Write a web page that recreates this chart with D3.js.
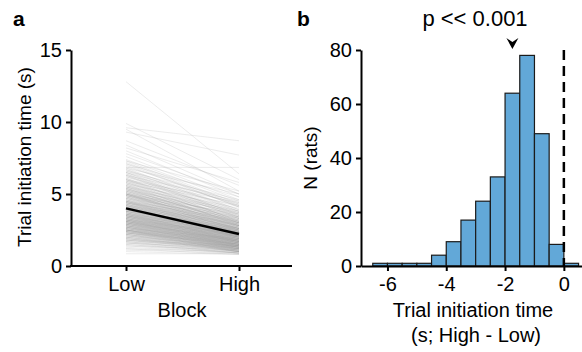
<!DOCTYPE html>
<html>
<head>
<meta charset="utf-8">
<script src="https://cdn.jsdelivr.net/npm/d3@7"></script>
<style>
  body { margin: 0; background: #fff; }
  svg { display: block; font-family: "Liberation Sans", Arial, sans-serif; }
</style>
</head>
<body>
<svg id="chart" width="582" height="352"></svg>
<script>
// Panel a: trial initiation time per rat in Low and High blocks
const blocks = ["Low", "High"];
const lowTimes = [
  0.85, 1.0, 1.1, 1.2, 1.2, 1.3, 1.4, 1.4,
  1.5, 1.5, 1.6, 1.6, 1.6, 1.7, 1.7, 1.7, 1.8, 1.8, 1.8, 1.8, 1.9, 1.9, 1.9, 1.9, 2.0, 2.0, 2.0, 2.0,
  2.1, 2.1, 2.1, 2.1, 2.2, 2.2, 2.2, 2.2, 2.2, 2.3, 2.3, 2.3, 2.3, 2.3, 2.3, 2.4, 2.4, 2.4, 2.4, 2.4, 2.4, 2.5, 2.5, 2.5, 2.5, 2.5, 2.5, 2.5, 2.5, 2.5,
  2.6, 2.6, 2.6, 2.6, 2.6, 2.6, 2.7, 2.7, 2.7, 2.7, 2.7, 2.7, 2.7, 2.8, 2.8, 2.8, 2.8, 2.8, 2.8, 2.8, 2.9, 2.9, 2.9, 2.9, 2.9, 2.9, 2.9, 3.0, 3.0, 3.0, 3.0, 3.0, 3.0, 3.0, 3.0,
  3.1, 3.1, 3.1, 3.1, 3.1, 3.1, 3.1, 3.1, 3.2, 3.2, 3.2, 3.2, 3.2, 3.2, 3.2, 3.2, 3.3, 3.3, 3.3, 3.3, 3.3, 3.3, 3.3, 3.4, 3.4, 3.4, 3.4, 3.4, 3.4, 3.4, 3.5, 3.5, 3.5, 3.5, 3.5, 3.5, 3.5, 3.5,
  3.6, 3.6, 3.6, 3.6, 3.6, 3.6, 3.6, 3.7, 3.7, 3.7, 3.7, 3.7, 3.7, 3.8, 3.8, 3.8, 3.8, 3.8, 3.8, 3.8, 3.9, 3.9, 3.9, 3.9, 3.9, 3.9, 4.0, 4.0, 4.0, 4.0, 4.0, 4.0, 4.0, 4.0,
  4.1, 4.1, 4.1, 4.1, 4.1, 4.2, 4.2, 4.2, 4.2, 4.2, 4.2, 4.3, 4.3, 4.3, 4.3, 4.3, 4.4, 4.4, 4.4, 4.4, 4.4, 4.4, 4.5, 4.5, 4.5, 4.5, 4.5, 4.5,
  4.6, 4.6, 4.6, 4.6, 4.7, 4.7, 4.7, 4.7, 4.8, 4.8, 4.8, 4.8, 4.9, 4.9, 4.9, 4.9, 4.9, 5.0, 5.0, 5.0, 5.0, 5.0, 5.0, 5.0,
  5.1, 5.1, 5.1, 5.1, 5.2, 5.2, 5.2, 5.2, 5.3, 5.3, 5.3, 5.3, 5.4, 5.4, 5.4, 5.4, 5.5, 5.5, 5.5, 5.5,
  5.6, 5.6, 5.6, 5.7, 5.7, 5.7, 5.8, 5.8, 5.8, 5.9, 5.9, 5.9, 6.0, 6.0, 6.0, 6.0,
  6.1, 6.1, 6.2, 6.2, 6.3, 6.3, 6.3, 6.4, 6.4, 6.5, 6.5, 6.5,
  6.6, 6.6, 6.7, 6.7, 6.8, 6.8, 6.85, 6.9, 7.0,
  7.1, 7.1, 7.2, 7.3, 7.3, 7.4,
  7.6, 7.8, 8.0, 8.2, 8.4,
  8.7, 9.3, 9.5, 9.6, 9.9, 12.8
];
const highTimes = [
  0.85, 0.8, 0.9, 0.8, 1.0, 0.9, 1.1, 0.9,
  1.0, 0.9, 1.1, 0.9, 1.2, 1.0, 1.3, 0.9, 1.1, 1.2, 1.0, 1.4, 1.1, 1.0, 1.3, 1.2, 1.2, 1.0, 1.4, 1.1,
  1.2, 1.0, 1.4, 1.3, 1.1, 1.5, 1.2, 1.3, 1.0, 1.4, 1.2, 1.6, 1.1, 1.3, 1.5, 1.2, 1.4, 1.0, 1.3, 1.7, 1.5, 1.3, 1.1, 1.6, 1.4, 1.2, 1.8, 1.5, 1.3, 1.0,
  1.4, 1.2, 1.7, 1.5, 1.3, 1.9, 1.5, 1.3, 1.6, 1.1, 1.8, 1.4, 1.5, 1.6, 1.3, 1.9, 1.5, 1.4, 1.7, 1.2, 1.6, 1.4, 2.0, 1.5, 1.8, 1.3, 1.7, 1.6, 1.4, 1.8, 1.5, 2.1, 1.3, 1.7, 1.9,
  1.7, 1.5, 2.0, 1.6, 1.8, 1.4, 2.2, 1.7, 1.8, 1.6, 2.1, 1.5, 1.9, 1.7, 2.3, 1.4, 1.8, 1.6, 2.0, 1.7, 2.2, 1.5, 1.9, 1.9, 1.7, 2.1, 1.6, 2.4, 1.8, 2.0, 1.9, 1.7, 2.2, 1.6, 2.0, 1.8, 2.5, 2.1,
  2.0, 1.8, 2.3, 1.7, 2.1, 1.9, 2.6, 2.0, 1.8, 2.4, 2.1, 1.7, 2.2, 2.1, 1.9, 2.5, 2.0, 2.3, 1.8, 2.7, 2.2, 2.0, 2.4, 1.9, 2.6, 2.1, 2.2, 2.0, 2.5, 1.9, 2.3, 2.8, 2.1, 2.4,
  2.3, 2.0, 2.6, 2.2, 2.9, 2.3, 2.1, 2.7, 2.4, 2.0, 3.0, 2.4, 2.2, 2.8, 2.5, 2.1, 2.5, 2.3, 2.9, 2.2, 3.1, 2.6, 2.5, 2.3, 2.8, 2.1, 3.2, 2.6,
  2.6, 2.4, 3.0, 2.2, 2.6, 2.8, 2.3, 3.3, 2.7, 2.5, 3.1, 2.3, 2.8, 2.6, 3.4, 2.4, 3.0, 2.8, 2.5, 3.2, 2.7, 3.6, 2.4, 2.9,
  2.9, 2.6, 3.3, 2.5, 3.0, 2.7, 3.5, 2.8, 3.0, 2.6, 3.7, 3.1, 3.0, 2.7, 3.4, 2.9, 3.1, 2.8, 3.8, 3.3,
  3.2, 2.9, 3.6, 3.2, 2.8, 4.0, 3.3, 3.0, 3.7, 3.4, 3.0, 4.2, 3.4, 3.1, 3.8, 4.4,
  3.5, 3.1, 3.6, 4.1, 3.6, 3.3, 4.5, 3.7, 3.4, 3.8, 4.3, 3.5,
  3.9, 4.6, 3.8, 4.2, 3.9, 5.0, 6.85, 4.4, 4.1,
  4.1, 4.8, 4.2, 4.3, 5.2, 4.5,
  4.6, 5.0, 4.8, 5.8, 5.0,
  5.6, 7.7, 5.2, 8.7, 6.0, 6.4
];
const meanTimes = [4.0, 2.22];
const yTicksA = [0, 5, 10, 15];

// Panel b: histogram of High - Low differences
const binStarts = [-6.5, -6, -5.5, -5, -4.5, -4, -3.5, -3, -2.5, -2, -1.5, -1, -0.5, 0];
const binCounts = [1, 1, 1, 1, 4, 9, 17, 24, 33, 64, 78, 49, 8, 1];
const binWidth = 0.5;
const meanDiff = -1.75;
const xTicksB = [-6, -4, -2, 0];
const yTicksB = [0, 20, 40, 60, 80];

const svg = d3.select("#chart");
const fontSize = 20;

function styleAxis(g) {
  g.attr("font-family", null).attr("font-size", null);
  g.selectAll("path.domain").attr("stroke", "#000").attr("stroke-width", 2);
  g.selectAll(".tick line").attr("stroke", "#000").attr("stroke-width", 2);
  g.selectAll(".tick text").attr("fill", "#000").style("font-size", fontSize + "px");
}

// ---------- panel a ----------
const xA = d3.scalePoint().domain(blocks).range([126, 239]);
const yA = d3.scaleLinear().domain([0, 15]).range([266, 50]);

const rats = d3.zip(lowTimes, highTimes);

svg.append("g")
  .selectAll("line")
  .data(rats)
  .join("line")
  .attr("x1", xA("Low"))
  .attr("x2", xA("High"))
  .attr("y1", (d) => yA(d[0]))
  .attr("y2", (d) => yA(d[1]))
  .attr("stroke", "#9a9a9a")
  .attr("stroke-opacity", 0.28)
  .attr("stroke-width", 0.7);

svg.append("line")
  .attr("x1", xA("Low"))
  .attr("x2", xA("High"))
  .attr("y1", yA(meanTimes[0]))
  .attr("y2", yA(meanTimes[1]))
  .attr("stroke", "#000")
  .attr("stroke-width", 2.5);

const axisAx = svg.append("g")
  .attr("transform", "translate(0,266)")
  .call(d3.axisBottom(xA).tickSize(5).tickSizeOuter(0).tickPadding(6))
  .call(styleAxis);
// extend the baseline across the whole panel
axisAx.select("path.domain").attr("d", "M70,0H292");

svg.append("g")
  .attr("transform", "translate(71,0)")
  .call(d3.axisLeft(yA).tickValues(yTicksA).tickSize(5).tickSizeOuter(0).tickPadding(4))
  .call(styleAxis);

svg.append("text")
  .attr("x", 182)
  .attr("y", 317)
  .attr("text-anchor", "middle")
  .style("font-size", fontSize + "px")
  .text("Block");

svg.append("text")
  .attr("transform", "translate(31,157) rotate(-90)")
  .attr("text-anchor", "middle")
  .style("font-size", "19px")
  .text("Trial initiation time (s)");

svg.append("text")
  .attr("x", 13)
  .attr("y", 26)
  .style("font-size", "21px")
  .style("font-weight", "bold")
  .text("a");

// ---------- panel b ----------
const xB = d3.scaleLinear().domain([-6.9, 0.6]).range([361, 581.5]);
const yB = d3.scaleLinear().domain([0, 80]).range([266, 50]);

svg.append("g")
  .selectAll("rect")
  .data(binStarts)
  .join("rect")
  .attr("x", (d) => xB(d))
  .attr("width", (d) => xB(d + binWidth) - xB(d))
  .attr("y", (d, i) => yB(binCounts[i]))
  .attr("height", (d, i) => yB(0) - yB(binCounts[i]))
  .attr("fill", "#62a8d8")
  .attr("stroke", "#1b1b1b")
  .attr("stroke-width", 1.2);

svg.append("line")
  .attr("x1", xB(0))
  .attr("x2", xB(0))
  .attr("y1", yB(80))
  .attr("y2", yB(0))
  .attr("stroke", "#000")
  .attr("stroke-width", 2.5)
  .attr("stroke-dasharray", "10,6");

svg.append("g")
  .attr("transform", "translate(0,266)")
  .call(d3.axisBottom(xB).tickValues(xTicksB).tickFormat((d) => String(d))
    .tickSize(5).tickSizeOuter(0).tickPadding(6))
  .call(styleAxis);

svg.append("g")
  .attr("transform", "translate(361,0)")
  .call(d3.axisLeft(yB).tickValues(yTicksB).tickSize(5).tickSizeOuter(0).tickPadding(4))
  .call(styleAxis);

// arrow marking the mean difference
svg.append("path")
  .attr("transform", `translate(${xB(meanDiff)},49)`)
  .attr("d", "M0,0L-6,-11L0,-7L6,-11Z")
  .attr("fill", "#000");

svg.append("text")
  .attr("x", 475)
  .attr("y", 26)
  .attr("text-anchor", "middle")
  .style("font-size", "22px")
  .text("p << 0.001");

svg.append("text")
  .attr("transform", "translate(317,158) rotate(-90)")
  .attr("text-anchor", "middle")
  .style("font-size", "19px")
  .text("N (rats)");

svg.append("text")
  .attr("x", 473)
  .attr("y", 317)
  .attr("text-anchor", "middle")
  .style("font-size", fontSize + "px")
  .text("Trial initiation time");

svg.append("text")
  .attr("x", 476)
  .attr("y", 342)
  .attr("text-anchor", "middle")
  .style("font-size", fontSize + "px")
  .text("(s; High - Low)");

svg.append("text")
  .attr("x", 297)
  .attr("y", 26)
  .style("font-size", "21px")
  .style("font-weight", "bold")
  .text("b");
</script>
</body>
</html>
